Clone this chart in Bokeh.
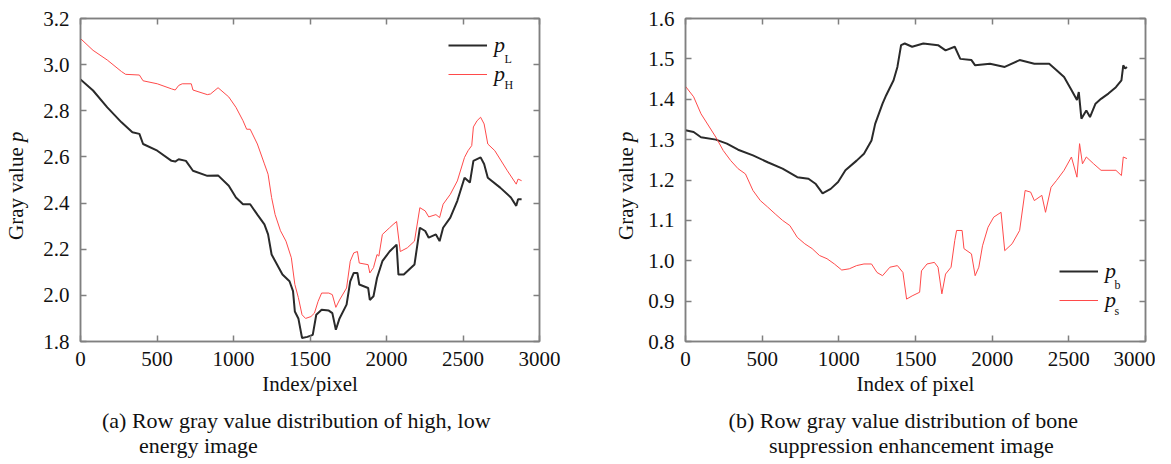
from bokeh.plotting import figure
from bokeh.models import LinearAxis, FixedTicker, Legend, LegendItem, Label, Div, Range1d
from bokeh.layouts import row, column
from bokeh.embed import file_html
from bokeh.resources import INLINE

# ---------------- data ----------------
# panel (a): row gray value of low energy image p_L
a_L_x = [0, 82, 175, 268, 339, 385, 409, 502, 595, 619, 642, 689, 735, 829, 899, 969, 1016,
         1062, 1109, 1156, 1202, 1226, 1249, 1296, 1320, 1366, 1389, 1401, 1424, 1448, 1483,
         1518, 1541, 1576, 1623, 1646, 1669, 1693, 1739, 1763, 1786, 1810, 1822, 1880, 1891,
         1915, 1938, 1973, 2020, 2066, 2078, 2113, 2183, 2218, 2253, 2276, 2323, 2347, 2370,
         2417, 2463, 2510, 2545, 2568, 2615, 2638, 2662, 2743, 2813, 2848, 2860, 2883]
a_L_y = [2.936, 2.888, 2.815, 2.750, 2.707, 2.700, 2.656, 2.627, 2.583, 2.580, 2.590, 2.583,
         2.540, 2.518, 2.520, 2.475, 2.424, 2.395, 2.395, 2.350, 2.308, 2.264, 2.177, 2.120,
         2.090, 2.061, 2.018, 1.930, 1.900, 1.815, 1.820, 1.829, 1.916, 1.938, 1.934, 1.923,
         1.851, 1.900, 1.960, 2.061, 2.097, 2.097, 2.047, 2.032, 1.980, 1.996, 2.075, 2.148,
         2.190, 2.220, 2.090, 2.090, 2.134, 2.293, 2.279, 2.250, 2.264, 2.235, 2.293, 2.337,
         2.410, 2.510, 2.489, 2.583, 2.598, 2.569, 2.510, 2.467, 2.424, 2.388, 2.417, 2.417]
# panel (a): row gray value of high energy image p_H
a_H_x = [0, 82, 175, 268, 295, 385, 409, 502, 595, 619, 642, 665, 724, 735, 829, 850, 899,
         969, 1016, 1062, 1086, 1109, 1156, 1202, 1226, 1249, 1272, 1307, 1343, 1378, 1401,
         1424, 1448, 1471, 1506, 1529, 1553, 1576, 1623, 1646, 1669, 1693, 1739, 1763, 1786,
         1810, 1822, 1880, 1891, 1915, 1938, 1950, 1973, 2020, 2043, 2066, 2090, 2136, 2183,
         2218, 2253, 2276, 2323, 2347, 2370, 2417, 2463, 2510, 2533, 2557, 2568, 2592, 2615,
         2638, 2662, 2708, 2790, 2848, 2860, 2883]
a_H_y = [3.113, 3.062, 3.020, 2.970, 2.958, 2.955, 2.930, 2.917, 2.895, 2.890, 2.910, 2.917,
         2.917, 2.890, 2.870, 2.873, 2.900, 2.860, 2.815, 2.757, 2.720, 2.720, 2.656, 2.570,
         2.525, 2.424, 2.350, 2.280, 2.235, 2.163, 2.047, 1.990, 1.916, 1.900, 1.908, 1.923,
         1.974, 2.010, 2.010, 2.003, 1.948, 1.980, 2.032, 2.148, 2.184, 2.190, 2.140, 2.133,
         2.097, 2.120, 2.177, 2.170, 2.264, 2.293, 2.307, 2.320, 2.190, 2.206, 2.235, 2.380,
         2.366, 2.340, 2.350, 2.337, 2.395, 2.438, 2.496, 2.598, 2.627, 2.649, 2.730, 2.757,
         2.772, 2.743, 2.656, 2.627, 2.540, 2.482, 2.504, 2.497]

# panel (b): bone image p_b
b_b_x = [0, 53, 101, 198, 270, 343, 440, 536, 633, 729, 802, 850, 894, 947, 995, 1043, 1116,
         1164, 1213, 1237, 1285, 1309, 1357, 1382, 1406, 1430, 1478, 1551, 1647, 1696, 1756,
         1792, 1865, 1889, 1986, 2082, 2179, 2275, 2372, 2420, 2469, 2517, 2553, 2565, 2582,
         2614, 2638, 2674, 2710, 2758, 2807, 2843, 2855, 2867, 2879]
b_b_y = [1.323, 1.319, 1.306, 1.300, 1.290, 1.275, 1.261, 1.244, 1.228, 1.207, 1.203, 1.190,
         1.167, 1.178, 1.195, 1.224, 1.248, 1.265, 1.298, 1.339, 1.389, 1.410, 1.447, 1.480,
         1.534, 1.538, 1.530, 1.538, 1.534, 1.521, 1.530, 1.500, 1.497, 1.484, 1.488, 1.480,
         1.497, 1.488, 1.488, 1.472, 1.455, 1.423, 1.398, 1.418, 1.352, 1.372, 1.356, 1.389,
         1.401, 1.414, 1.430, 1.447, 1.484, 1.476, 1.480]
# panel (b): soft tissue image p_s
b_s_x = [0, 53, 101, 198, 246, 295, 343, 391, 440, 488, 536, 585, 633, 681, 729, 778, 826,
         874, 923, 971, 1019, 1068, 1116, 1164, 1213, 1249, 1285, 1333, 1382, 1418, 1442, 1478,
         1527, 1539, 1575, 1623, 1647, 1672, 1696, 1732, 1756, 1768, 1804, 1816, 1865, 1889,
         1913, 1937, 1973, 2010, 2058, 2082, 2130, 2179, 2215, 2251, 2275, 2324, 2348, 2384,
         2420, 2469, 2517, 2553, 2570, 2589, 2614, 2662, 2710, 2807, 2843, 2855, 2879]
b_s_y = [1.432, 1.406, 1.364, 1.306, 1.273, 1.248, 1.228, 1.215, 1.174, 1.149, 1.133, 1.116,
         1.100, 1.087, 1.058, 1.042, 1.030, 1.013, 1.005, 0.992, 0.977, 0.980, 0.988, 0.992,
         0.992, 0.971, 0.963, 0.984, 0.988, 0.971, 0.905, 0.913, 0.922, 0.975, 0.992, 0.996,
         0.984, 0.918, 0.967, 0.984, 1.050, 1.075, 1.075, 1.030, 1.017, 0.963, 0.984, 1.037,
         1.083, 1.108, 1.120, 1.025, 1.042, 1.075, 1.174, 1.170, 1.149, 1.162, 1.120, 1.182,
         1.199, 1.224, 1.257, 1.207, 1.290, 1.240, 1.257, 1.240, 1.224, 1.224, 1.211, 1.257,
         1.253]

x_ticks = [0, 500, 1000, 1500, 2000, 2500, 3000]
x_tick_labels = ["0", "500", "1000", "1500", "2000", "2500", "3000"]
a_y_ticks = [1.8, 2.0, 2.2, 2.4, 2.6, 2.8, 3.0, 3.2]
a_y_tick_labels = ["1.8", "2.0", "2.2", "2.4", "2.6", "2.8", "3.0", "3.2"]
b_y_ticks = [0.8, 0.9, 1.0, 1.1, 1.2, 1.3, 1.4, 1.5, 1.6]
b_y_tick_labels = ["0.8", "0.9", "1.0", "1.1", "1.2", "1.3", "1.4", "1.5", "1.6"]

a_xlabel = "Index/pixel"
b_xlabel = "Index of pixel"
ylabel_html = "Gray value <i>p</i>"
a_legend_subs = ["L", "H"]
b_legend_subs = ["b", "s"]
a_caption = ["(a) Row gray value distribution of high, low", "energy image"]
b_caption = ["(b) Row gray value distribution of bone", "suppression enhancement image"]

# ---------------- styling ----------------
FONT = "Liberation Serif"
FRAME = "#808080"
BLACK = "#2a2a2a"
RED = "#ff4a4a"
TXT = "#111111"
FRAME_TOP = 18
FRAME_H = 323
FIG_BOTTOM = 70
FIG_H = FRAME_TOP + FRAME_H + FIG_BOTTOM
CAP_H = 50


def make_fig(y0, y1, yt, ytl, xlabel, left, right, fw):
    p = figure(frame_width=fw, frame_height=FRAME_H,
               x_range=Range1d(0, 3000), y_range=Range1d(y0, y1),
               min_border_left=left, min_border_right=right,
               min_border_top=FRAME_TOP, min_border_bottom=FIG_BOTTOM,
               output_backend="svg", toolbar_location=None)
    p.grid.visible = False
    p.outline_line_color = FRAME
    p.outline_line_width = 1.5
    p.background_fill_color = "white"
    p.border_fill_color = "white"

    p.xaxis.ticker = FixedTicker(ticks=x_ticks)
    p.xaxis.major_label_overrides = dict(zip(x_ticks, x_tick_labels))
    p.yaxis.ticker = FixedTicker(ticks=yt)
    p.yaxis.major_label_overrides = dict(zip(yt, ytl))
    p.xaxis.axis_label = xlabel
    for ax in (p.xaxis[0], p.yaxis[0]):
        ax.axis_line_color = FRAME
        ax.axis_line_width = 1.5
        ax.major_tick_line_color = FRAME
        ax.major_tick_line_width = 1.5
        ax.major_tick_in = 6
        ax.major_tick_out = 0
        ax.minor_tick_line_color = None
        ax.major_label_text_font = FONT
        ax.major_label_text_font_size = "21px"
        ax.major_label_text_color = TXT
        ax.axis_label_text_font = FONT
        ax.axis_label_text_font_size = "21px"
        ax.axis_label_text_font_style = "normal"
        ax.axis_label_text_color = TXT
    p.xaxis.major_label_standoff = 10
    p.xaxis.axis_label_standoff = 3
    p.yaxis.major_label_standoff = 11

    for loc, tk in (("above", x_ticks), ("right", yt)):
        ax = LinearAxis(ticker=FixedTicker(ticks=tk),
                        major_label_text_font_size="1px",
                        major_label_text_color=None, major_label_text_alpha=0,
                        axis_line_color=FRAME, axis_line_width=1.5,
                        major_tick_line_color=FRAME, major_tick_line_width=1.5,
                        major_tick_in=6, major_tick_out=0,
                        minor_tick_line_color=None, major_label_standoff=0)
        p.add_layout(ax, loc)
    return p


def add_legend(p, rends, subs, loc, x2d, y2d, sub_px):
    items = [LegendItem(label="p", renderers=[r]) for r in rends]
    leg = Legend(items=items, location=loc, padding=0, margin=0,
                 glyph_width=39, glyph_height=20, label_height=20, label_width=27,
                 label_standoff=7, spacing=3,
                 border_line_color=None, background_fill_alpha=0,
                 label_text_font=FONT, label_text_font_size="22px",
                 label_text_font_style="italic", label_text_color=TXT)
    p.add_layout(leg)
    for s, (px, py) in zip(subs, sub_px):
        p.add_layout(Label(x=x2d(px), y=y2d(py), text=s, text_font=FONT,
                           text_font_size="12px", text_color=TXT,
                           text_baseline="alphabetic", text_align="left"))


def ylabel_div(width, left, bottom):
    html = ('<div style="position:relative;width:%dpx;height:%dpx;">'
            '<div style="position:absolute;left:%.1fpx;top:%dpx;transform-origin:0 0;'
            'transform:rotate(-90deg);white-space:nowrap;font-family:\'Liberation Serif\',serif;'
            'font-size:21px;line-height:21px;color:#111111;">%s</div></div>'
            % (width, FIG_H, left, bottom, ylabel_html))
    return Div(text=html, width=width, height=FIG_H, margin=0, styles={"overflow": "visible"})


def caption(lines, lefts, width):
    html = ('<div style="position:relative;width:%dpx;height:%dpx;font-family:\'Liberation Serif\',serif;'
            'font-size:22px;line-height:14px;color:#111111;">' % (width, CAP_H))
    for txt, lx, ty in zip(lines, lefts, (3, 28)):
        html += ('<div style="position:absolute;left:%.1fpx;top:%dpx;height:14px;white-space:nowrap;">%s</div>'
                 % (lx, ty, txt))
    html += '</div>'
    return Div(text=html, width=width, height=CAP_H, margin=0)


# ---------------- panel (a): page x 0..593 ----------------
pa = make_fig(1.8, 3.2, a_y_ticks, a_y_tick_labels, a_xlabel, 42, 54, 459)
rL = pa.line(a_L_x, a_L_y, line_color=BLACK, line_width=2)
rH = pa.line(a_H_x, a_H_y, line_color=RED, line_width=1)
ax2d = lambda px: (px - 80) / 459 * 3000
ay2d = lambda py: 1.8 + (341 - py) / FRAME_H * 1.4
add_legend(pa, [rL, rH], a_legend_subs, (368, 254), ax2d, ay2d, [(504, 58), (504, 84)])
ylab_a = ylabel_div(38, 6.4, 240)
cap_a = caption(a_caption, (64, 101), 555)

# ---------------- panel (b): page x 593..1155 ----------------
pb = make_fig(0.8, 1.6, b_y_ticks, b_y_tick_labels, b_xlabel, 42, 10, 460)
rb = pb.line(b_b_x, b_b_y, line_color=BLACK, line_width=2)
rs = pb.line(b_s_x, b_s_y, line_color=RED, line_width=1)
bx2d = lambda px: (px - 685) / 460 * 3000
by2d = lambda py: 0.8 + (341 - py) / FRAME_H * 0.8
add_legend(pb, [rb, rs], b_legend_subs, (374, 28), bx2d, by2d, [(1114, 284), (1114, 310)])
ylab_b = ylabel_div(50, 23.4, 240)
cap_b = caption(b_caption, (85.6, 126), 512)

layout = row(ylab_a, column(pa, cap_a), ylab_b, column(pb, cap_b))
open("out.html", "w").write(file_html(layout, INLINE))
